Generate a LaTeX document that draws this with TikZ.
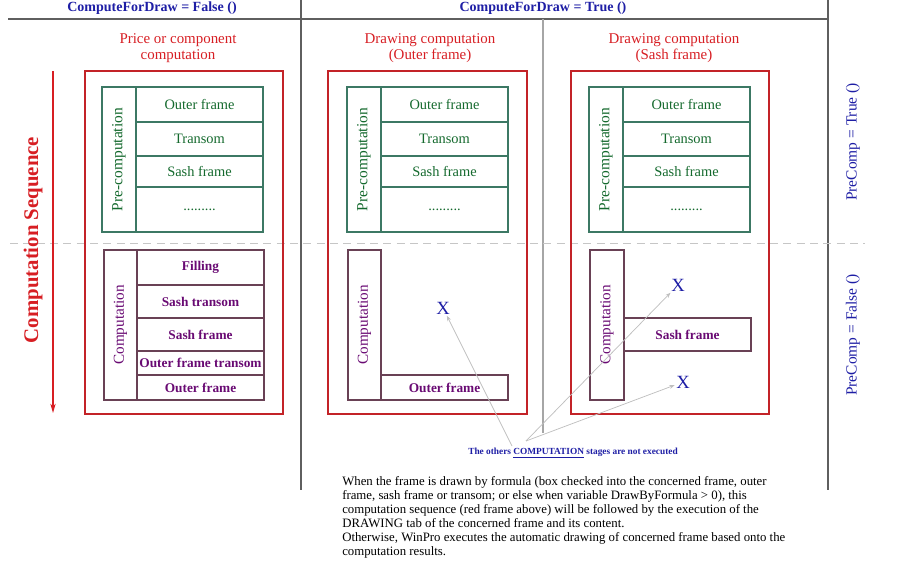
\documentclass[tikz,border=0pt]{standalone}
\usepackage{fontspec}
\setmainfont{Liberation Serif}
\usetikzlibrary{arrows.meta, positioning}
\definecolor{seqred}{RGB}{215, 30, 35}
\definecolor{boxred}{RGB}{195, 35, 40}
\definecolor{flagblue}{RGB}{30, 30, 165}
\definecolor{pregreen}{RGB}{20, 105, 45}
\definecolor{preline}{RGB}{60, 120, 100}
\definecolor{comppurple}{RGB}{105, 10, 115}
\definecolor{compline}{RGB}{105, 65, 85}
\definecolor{rulegray}{RGB}{95, 95, 95}
\tikzset{
  cellbox/.style 2 args={minimum width=#1*0.75pt, minimum height=#2*0.75pt, inner sep=0pt, outer sep=0pt},
  precell/.style={draw=preline, line width=1pt, text=pregreen, font=\fontsize{10.8}{12}\selectfont},
  compcell/.style={draw=compline, line width=1.2pt, text=comppurple, font=\fontsize{10}{11}\selectfont\bfseries},
  complabel/.style={compcell, font=\fontsize{11.4}{12}\selectfont},
  stagebox/.style={draw=boxred, line width=1.4pt, inner sep=0pt},
  stagetitle/.style={text=seqred, align=center, font=\fontsize{11.2}{11.6}\selectfont},
  flag/.style={text=flagblue, font=\fontsize{10.5}{12}\selectfont\bfseries},
  flagside/.style={text=flagblue, font=\fontsize{11.6}{12}\selectfont},
  xmark/.style={text=flagblue, inner sep=1pt, font=\fontsize{14}{15}\selectfont},
  rule/.style={draw=rulegray, line width=1pt},
  skiparrow/.style={-{Stealth[length=4pt, width=3pt]}, gray!50, line width=0.55pt},
}

\begin{document}
\begin{tikzpicture}[x=0.75pt, y=-0.75pt]
  \useasboundingbox (0,0) rectangle (921,571);

  % header and column rules
  \draw[rule] (8,19) -- (828,19);
  \draw[rule] (301,0) -- (301,490);
  \draw[rule, draw=gray!70] (543,19) -- (543,433);
  \draw[rule] (828,0) -- (828,490);
  \draw[gray!45, line width=0.6pt, dash pattern=on 6pt off 4pt] (10,243) -- (865,243);
  \node[flag] (cfdfalse) at (152,8) {ComputeForDraw = False ()};
  \node[flag] (cfdtrue) at (543,8) {ComputeForDraw = True ()};
  \node[flagside, rotate=90] (pctrue) at (853,142) {PreComp = True ()};
  \node[flagside, rotate=90] (pcfalse) at (853,335) {PreComp = False ()};

  % sequence arrow
  \coordinate (seqtop) at (53,71);
  \coordinate (seqbot) at (53,413);
  \draw[seqred, line width=1pt, -{Stealth[length=7pt, width=4pt]}] (seqtop) -- (seqbot);
  \node[text=seqred, rotate=90, font=\fontsize{15.6}{16}\selectfont\bfseries] (seqlabel) at (33,240) {Computation Sequence};

  % stage frames
  \node[stagetitle] (titlea) at (178,48) {Price or component\\computation};
  \node[stagetitle] (titleb) at (430,48) {Drawing computation\\(Outer frame)};
  \node[stagetitle] (titlec) at (674,48) {Drawing computation\\(Sash frame)};
  \node[stagebox, cellbox={198}{343}] (stagea) at (184,242.5) {};
  \node[stagebox, cellbox={199}{343}] (stageb) at (427.5,242.5) {};
  \node[stagebox, cellbox={198}{343}] (stagec) at (670,242.5) {};

  % pre-computation tables
  \foreach \c/\x in {a/102, b/347, c/589} {
    \node[precell, cellbox={145}{34}, rotate=90, font=\fontsize{11.6}{12}\selectfont] (pre\c) at (\x+17,159.5) {Pre-computation};
    \node[precell, cellbox={127}{35}, anchor=north west] (pre\c1) at (\x+34,87) {Outer frame};
    \node[precell, cellbox={127}{34}, below=0pt of pre\c1] (pre\c2) {Transom};
    \node[precell, cellbox={127}{31}, below=0pt of pre\c2] (pre\c3) {Sash frame};
    \node[precell, cellbox={127}{45}, below=0pt of pre\c3] (pre\c4) {.........};
  }

  % computation tables
  \node[complabel, cellbox={150}{33}, rotate=90] (compa) at (120.5,325) {Computation};
  \node[compcell, cellbox={127}{35}, anchor=north west] (compa1) at (137,250) {Filling};
  \node[compcell, cellbox={127}{33}, below=0pt of compa1] (compa2) {Sash transom};
  \node[compcell, cellbox={127}{33}, below=0pt of compa2] (compa3) {Sash frame};
  \node[compcell, cellbox={127}{24}, below=0pt of compa3] (compa4) {Outer frame transom};
  \node[compcell, cellbox={127}{25}, below=0pt of compa4] (compa5) {Outer frame};

  \node[complabel, cellbox={150}{33}, rotate=90] (compb) at (364.5,325) {Computation};
  \node[compcell, cellbox={127}{25}, anchor=south west] (compb1) at (381,400) {Outer frame};

  \node[complabel, cellbox={150}{34}, rotate=90] (compc) at (607,325) {Computation};
  \node[compcell, cellbox={127}{33}, anchor=north west] (compc1) at (624,318) {Sash frame};

  % skipped stages
  \node[xmark] (xb) at (443,308) {X};
  \node[xmark] (xc1) at (678,285) {X};
  \node[xmark] (xc2) at (683,382) {X};
  \node[text=flagblue, font=\fontsize{7}{8}\selectfont\bfseries] (skipnote) at (573,453)
    {The others \underline{COMPUTATION} stages are not executed};
  \coordinate (fromb) at (512,446);
  \coordinate (fromc) at (526,441);
  \draw[skiparrow] (fromb) -- (xb);
  \draw[skiparrow] (fromc) -- (xc1);
  \draw[skiparrow] (fromc) -- (xc2);

  \node[anchor=north west, align=left, inner sep=0pt, font=\fontsize{9.6}{10.6}\selectfont] (drawnote) at (342,476)
    {When the frame is drawn by formula (box checked into the concerned frame, outer\\
     frame, sash frame or transom; or else when variable DrawByFormula > 0), this\\
     computation sequence (red frame above) will be followed by the execution of the\\
     DRAWING tab of the concerned frame and its content.\\
     Otherwise, WinPro executes the automatic drawing of concerned frame based onto the\\
     computation results.};
\end{tikzpicture}
\end{document}
